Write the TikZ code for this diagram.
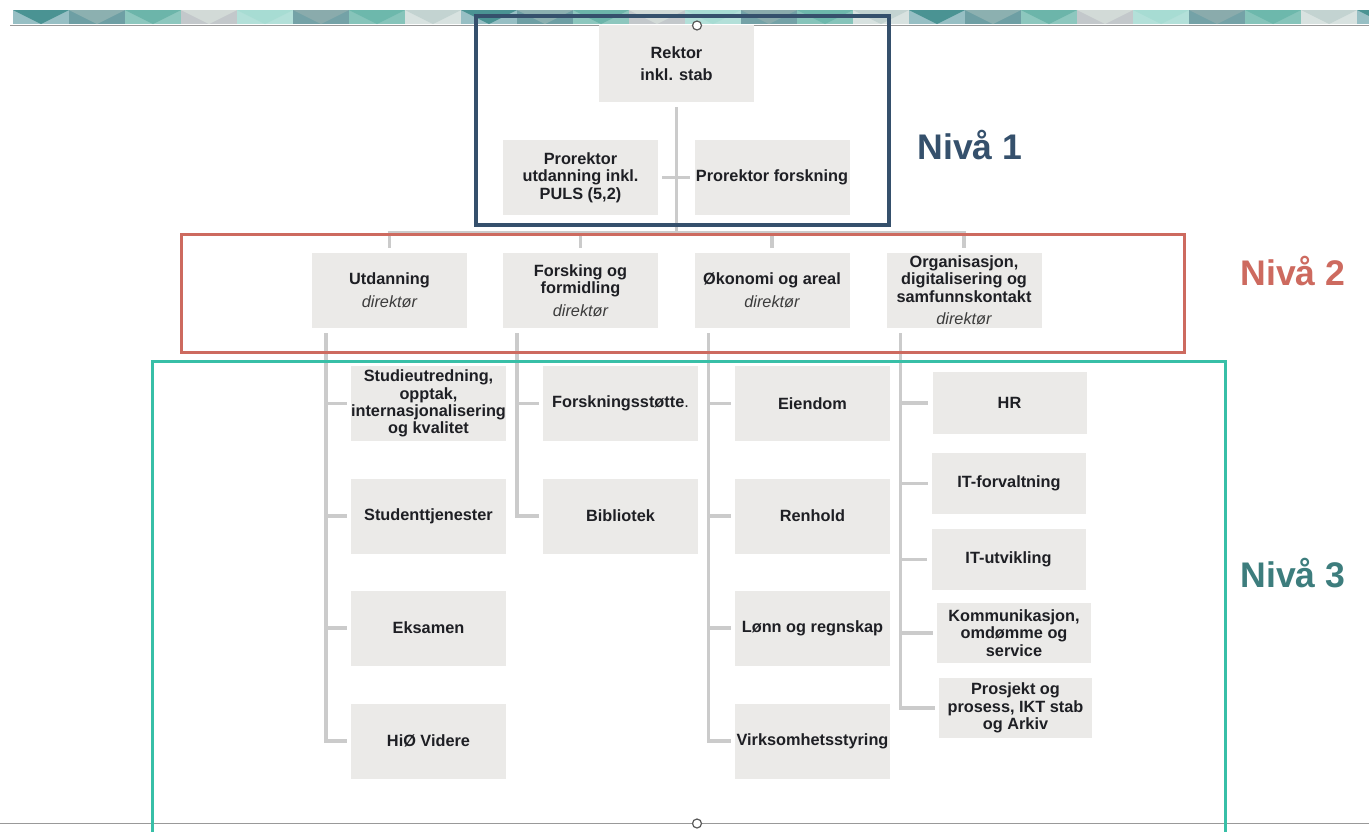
\documentclass[tikz,border=0pt]{standalone}
\usepackage{fontspec}
\setmainfont{Liberation Sans}
\usepackage{tikz}
\usetikzlibrary{calc,positioning}
\usepackage{xcolor}
\definecolor{navyframe}{HTML}{35506C}
\definecolor{redframe}{HTML}{CD6A5F}
\definecolor{tealframe}{HTML}{38BFA7}
\definecolor{tealtext}{HTML}{3D7D7D}
\definecolor{boxgray}{HTML}{EBEAE8}
\definecolor{linkgray}{HTML}{CBCBCB}
\definecolor{ink}{HTML}{1E1F24}
\definecolor{dirgray}{HTML}{3C3C3C}
% band colours (background / triangle)
\definecolor{bandc1}{HTML}{97BFC4}\definecolor{bandt1}{HTML}{4A9393}
\definecolor{bandc2}{HTML}{6E9FA4}\definecolor{bandt2}{HTML}{8CB0B0}
\definecolor{bandc3}{HTML}{8DC7BE}\definecolor{bandt3}{HTML}{6CB5AA}
\definecolor{bandc4}{HTML}{C3C8CB}\definecolor{bandt4}{HTML}{D2DAD7}
\definecolor{bandc5}{HTML}{B3E0D9}\definecolor{bandt5}{HTML}{A7DCD3}
\definecolor{bandc6}{HTML}{74A2A7}\definecolor{bandt6}{HTML}{8AABAC}
\definecolor{bandc7}{HTML}{86C4BA}\definecolor{bandt7}{HTML}{6DB8AC}
\definecolor{bandc8}{HTML}{D8E2E0}\definecolor{bandt8}{HTML}{C3D3D1}
\newcommand{\boxfont}{\fontsize{16.3}{17.3}\selectfont\bfseries}
\newcommand{\dirtitle}{{\mdseries\itshape\color{dirgray}direktør}}

\begin{document}
\begin{tikzpicture}[x=1pt,y=-1pt]
        \tikzstyle{unit}=[fill=boxgray,text=ink,inner sep=0pt,align=center,minimum width=155pt,minimum height=75pt,font=\boxfont]
        \tikzstyle{link}=[draw=linkgray,line width=3.5pt]
        \tikzstyle{level}=[font=\bfseries\fontsize{35.6}{40}\selectfont]
        \tikzstyle{handle}=[circle,draw=black!65,fill=white,line width=1.2pt,inner sep=0pt,minimum size=9pt]
        \useasboundingbox[fill=white] (0,0) rectangle (1369,831);
        % Decorative band on top
        \begin{scope}
        \clip (10,0) rectangle (1369,30);
        \foreach \i in {0,...,24} {
            \pgfmathtruncatemacro\k{mod(\i,8)+1}
            \fill[bandc\k] (13+56*\i,10) rectangle (69+56*\i,24);
            \fill[bandt\k] (13+56*\i,10) -- (69+56*\i,10) -- (41+56*\i,24) -- cycle;
        }
        \end{scope}
        \draw[black!40,line width=1.5pt] (10,25.5) -- (1369,25.5);
        \draw[black!40,line width=1.5pt] (0,823.5) -- (1369,823.5);
        % Level 1
        \node[unit,minimum height=77pt] (rektor) at (676.5,63.5) {Rektor\\[5pt]inkl. stab};
        \node[unit] (proutd) at (580.5,177.5) {Prorektor\\utdanning inkl.\\PULS (5,2)};
        \node[unit] (profsk) at (772,177.5) {Prorektor forskning};
        % Level 2
        \node[unit] (utd) at (389.5,290.5) {Utdanning\\[5.5pt]\dirtitle};
        \node[unit] (fsk) at (580.5,290.5) {Forsking og\\formidling\\[5.5pt]\dirtitle};
        \node[unit] (oko) at (772,290.5) {Økonomi og areal\\[5.5pt]\dirtitle};
        \node[unit] (org) at (964,290.5) {Organisasjon,\\digitalisering og\\samfunnskontakt\\[5.5pt]\dirtitle};
        % Level 3, Utdanning
        \node[unit] (stu) at (428.5,403.5) {Studieutredning,\\opptak,\\internasjonalisering\\og kvalitet};
        \node[unit] (stt) at (428.5,516) {Studenttjenester};
        \node[unit] (eks) at (428.5,628) {Eksamen};
        \node[unit] (hio) at (428.5,741) {HiØ Videre};
        % Level 3, Forsking
        \node[unit] (fst) at (620.5,403.5) {Forskningsstøtte{\mdseries .}};
        \node[unit] (bib) at (620.5,516) {Bibliotek};
        % Level 3, Okonomi
        \node[unit] (eie) at (812.5,403.5) {Eiendom};
        \node[unit] (ren) at (812.5,516) {Renhold};
        \node[unit] (lon) at (812.5,628) {Lønn og regnskap};
        \node[unit] (vir) at (812.5,741) {Virksomhetsstyring};
        % Level 3, Organisasjon
        \node[unit,minimum height=62pt,minimum width=154pt] (hr) at (1009.5,403) {HR};
        \node[unit,minimum height=61pt,minimum width=154pt] (itf) at (1009,483.5) {IT-forvaltning};
        \node[unit,minimum height=61pt,minimum width=154pt] (itu) at (1008.5,559.5) {IT-utvikling};
        \node[unit,minimum height=60pt,minimum width=154pt] (kom) at (1014,633) {Kommunikasjon,\\omdømme og\\service};
        \node[unit,minimum height=60pt,minimum width=153pt] (prj) at (1015.5,708) {Prosjekt og\\prosess, IKT stab\\og Arkiv};
        % Connectors level 1
        \coordinate (bar2) at (0,233);
        \draw[link] ([yshift=-5pt]rektor.south) -- (rektor.south |- bar2);
        \draw[link] ([xshift=4pt]proutd.east) -- ([xshift=-4pt]profsk.west);
        % Connectors level 2
        \draw[link] ([yshift=5pt]utd.north) |- (bar2 -| org.north) -- ([yshift=5pt]org.north);
        \draw[link] ([yshift=5pt]fsk.north) -- (fsk.north |- bar2);
        \draw[link] ([yshift=5pt]oko.north) -- (oko.north |- bar2);
        % Connectors level 3 (trunk 14pt inside the left edge)
        \coordinate (tu) at ([xshift=14pt,yshift=-5pt]utd.south west);
        \coordinate (tf) at ([xshift=14pt,yshift=-5pt]fsk.south west);
        \coordinate (to) at ([xshift=14pt,yshift=-5pt]oko.south west);
        \coordinate (tg) at ([xshift=14pt,yshift=-5pt]org.south west);
        \draw[link] (tu) |- ([xshift=-4pt]hio.west);
        \foreach \c in {stu,stt,eks} \draw[link] (tu |- \c.west) -- ([xshift=-4pt]\c.west);
        \draw[link] (tf) |- ([xshift=-4pt]bib.west);
        \draw[link] (tf |- fst.west) -- ([xshift=-4pt]fst.west);
        \draw[link] (to) |- ([xshift=-4pt]vir.west);
        \foreach \c in {eie,ren,lon} \draw[link] (to |- \c.west) -- ([xshift=-4pt]\c.west);
        \draw[link] (tg) |- ([xshift=-4pt]prj.west);
        \foreach \c in {hr,itf,itu,kom} \draw[link] (tg |- \c.west) -- ([xshift=-4pt]\c.west);
        % Level frames
        \draw[navyframe,line width=4pt] (475.5,16) rectangle (888.5,225);
        \draw[redframe,line width=3pt] (181.5,234) rectangle (1184.5,352.5);
        \draw[tealframe,line width=3pt] (152,835) -- (152,361) -- (1225,361) -- (1225,835);
        \node[level,text=navyframe] (niva1) at (970,145) {Nivå 1};
        \node[level,text=redframe] (niva2) at (1293,271) {Nivå 2};
        \node[level,text=tealtext] (niva3) at (1293,573) {Nivå 3};
        % Selection handles
        \node[handle] (htop) at (697,25.5) {};
        \node[handle] (hbot) at (697,823.5) {};
\end{tikzpicture}
\end{document}
